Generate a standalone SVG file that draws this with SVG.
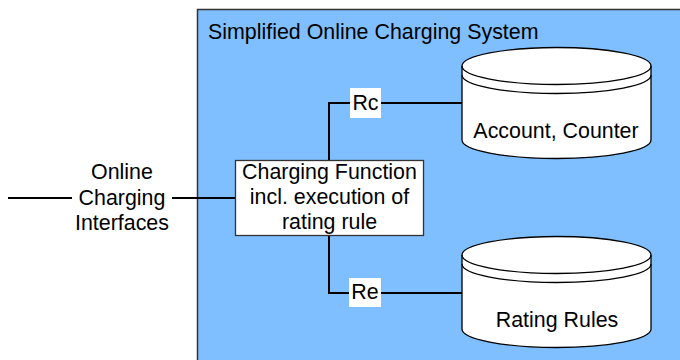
<svg xmlns="http://www.w3.org/2000/svg" width="680" height="360" viewBox="0 0 680 360">
<style>
text{font-family:"Liberation Sans",Arial,sans-serif;font-size:21.4px;fill:#000}
.c{text-anchor:middle}
.ln{fill:none;stroke:#000;stroke-width:2}
.cyl{fill:#fff;stroke:#000;stroke-width:1.3}
.arc{fill:none;stroke:#000;stroke-width:1.3}
.lbl{fill:#fff;stroke:none}
</style>
<rect width="680" height="360" fill="#fff"/>
<g id="ocs">
<rect x="197.5" y="9.5" width="490" height="360" fill="#80bfff" stroke="#333" stroke-width="1.5"/>
<text x="208" y="39">Simplified Online Charging System</text>
</g>
<g id="connectors">
<line class="ln" x1="8" y1="198" x2="72" y2="198"/>
<line class="ln" x1="172" y1="198" x2="235" y2="198"/>
<polyline class="ln" points="329,160 329,103 462,103"/>
<polyline class="ln" points="329,236 329,293 462,293"/>
<rect class="lbl" x="350" y="88" width="31" height="30"/>
<text class="c" x="365.5" y="110">Rc</text>
<rect class="lbl" x="349" y="278" width="32" height="29"/>
<text class="c" x="365" y="299">Re</text>
</g>
<g id="interfaces">
<text class="c" x="122" y="179">Online</text>
<text class="c" x="122" y="205">Charging</text>
<text class="c" x="122" y="230">Interfaces</text>
</g>
<g id="charging-function">
<rect x="235.5" y="160.5" width="188" height="75" fill="#fff" stroke="#333" stroke-width="1.3"/>
<text class="c" x="329.5" y="179">Charging Function</text>
<text class="c" x="329.5" y="204">incl. execution of</text>
<text class="c" x="329.5" y="229">rating rule</text>
</g>
<g id="account-counter">
<path class="cyl" d="M462,66 L462,140 A94.5,18.5 0 0 0 651,140 L651,66 A94.5,18.5 0 0 0 462,66 Z"/>
<path class="arc" d="M462,66 A94.5,18.5 0 0 0 651,66"/>
<path class="arc" d="M462,75 A94.5,18.5 0 0 0 651,75"/>
<text class="c" x="556" y="138">Account, Counter</text>
</g>
<g id="rating-rules">
<path class="cyl" d="M462,255 L462,329 A94.5,18.5 0 0 0 651,329 L651,255 A94.5,18.5 0 0 0 462,255 Z"/>
<path class="arc" d="M462,255 A94.5,18.5 0 0 0 651,255"/>
<path class="arc" d="M462,264 A94.5,18.5 0 0 0 651,264"/>
<text class="c" x="557" y="327">Rating Rules</text>
</g>
</svg>
